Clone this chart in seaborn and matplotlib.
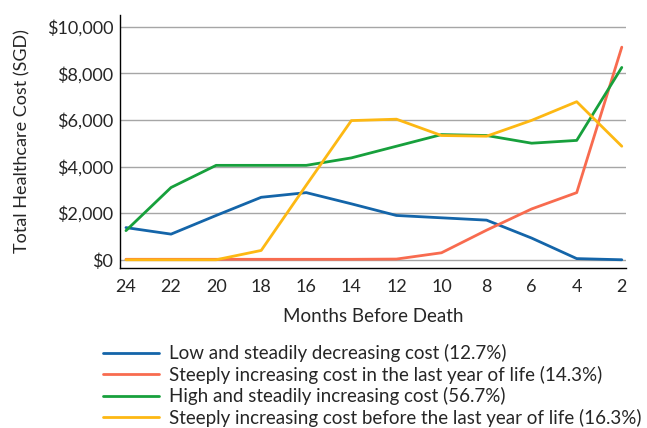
import pandas as pd
import matplotlib
matplotlib.use('Agg')
import matplotlib.pyplot as plt
import seaborn as sns
from matplotlib.ticker import FuncFormatter

# Дані з графіка
months = [24, 22, 20, 18, 16, 14, 12, 10, 8, 6, 4, 2]
low_decreasing = [1380, 1100, 1900, 2680, 2880, 2400, 1900, 1800, 1700, 930, 50, 0]
steep_last_year = [20, 20, 20, 20, 20, 20, 30, 300, 1270, 2180, 2880, 9120]
high_increasing = [1250, 3100, 4050, 4050, 4050, 4370, 4870, 5370, 5330, 5000, 5120, 8250]
steep_before_last = [0, 0, 0, 400, 3200, 5970, 6030, 5330, 5300, 5980, 6780, 4870]

series_names = [
    'Low and steadily decreasing cost (12.7%)',
    'Steeply increasing cost in the last year of life (14.3%)',
    'High and steadily increasing cost (56.7%)',
    'Steeply increasing cost before the last year of life (16.3%)',
]
colors = ['#1465a9', '#f86b4f', '#17a03c', '#fdb813']

df = pd.DataFrame({
    'Months': months * 4,
    'Cost': low_decreasing + steep_last_year + high_increasing + steep_before_last,
    'Group': sum([[n] * len(months) for n in series_names], []),
})

sns.set_style('white')
plt.rcParams['font.family'] = ['Lato', 'DejaVu Sans']

fig = plt.figure(figsize=(6.47, 4.28), dpi=100)
ax = fig.add_axes([0.186, 0.374, 0.782, 0.591])

sns.lineplot(data=df, x='Months', y='Cost', hue='Group', palette=colors,
             linewidth=2.0, ax=ax, legend=True)

ax.set_xlim(24.25, 1.8)
ax.set_ylim(-350, 10500)
ax.set_xticks(months)
ax.set_yticks(range(0, 10001, 2000))
ax.yaxis.set_major_formatter(FuncFormatter(lambda v, p: f'${int(v):,}'))
ax.grid(axis='y', color='#a6a6a6', linewidth=1.0)
ax.set_axisbelow(True)
for s in ['top', 'right']:
    ax.spines[s].set_visible(False)
for s in ['left', 'bottom']:
    ax.spines[s].set_color('black')
    ax.spines[s].set_linewidth(1.0)
ax.tick_params(axis='both', labelsize=13, length=0)
ax.tick_params(axis='x', pad=8)
ax.tick_params(axis='y', pad=5)
ax.set_xlabel('Months Before Death', fontsize=13.5, labelpad=9)
ax.set_ylabel('Total Healthcare Cost (SGD)', fontsize=13, labelpad=12)

ax.legend(title=None, frameon=False, fontsize=13.5, loc='upper left',
          bbox_to_anchor=(-0.05, -0.272), handlelength=3.0, handletextpad=0.55,
          labelspacing=0.18, borderaxespad=0)

fig.savefig('out.png', dpi=100)
